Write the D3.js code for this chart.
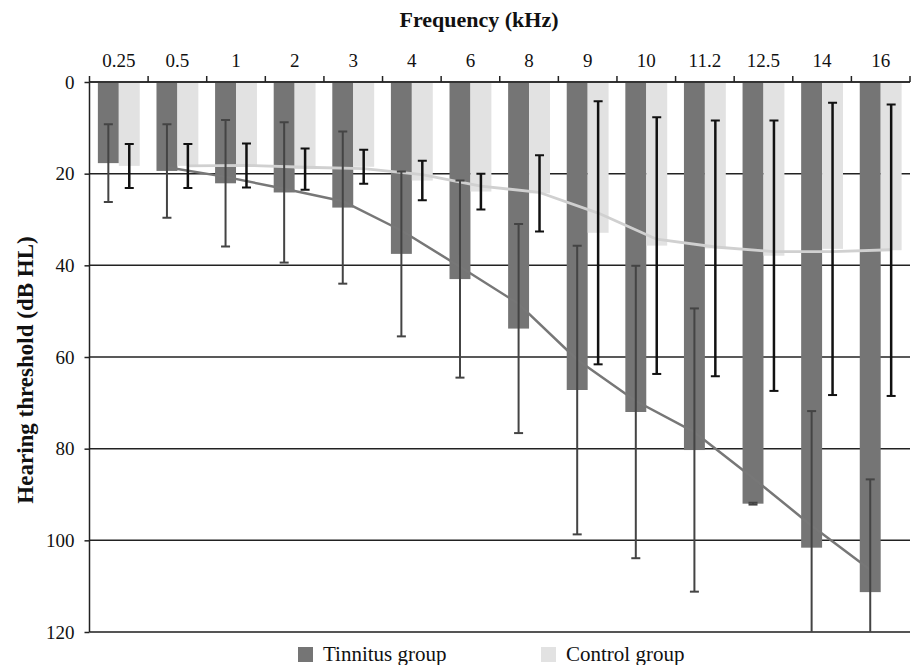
<!DOCTYPE html>
<html>
<head>
<meta charset="utf-8">
<script src="https://cdn.jsdelivr.net/npm/d3@7/dist/d3.min.js"></script>
<style>
  body { margin: 0; background: #fff; }
</style>
</head>
<body>
<div id="chart"></div>
<script>
var width = 912,
    height = 665;

var margin = { top: 82, right: 2, bottom: 33, left: 89.5 };
var serif = "'Liberation Serif'";

// frequencies (kHz)
var freqs = ["0.25", "0.5", "1", "2", "3", "4", "6", "8", "9", "10", "11.2", "12.5", "14", "16"];

// mean hearing thresholds (dB HL) and SD
var tinnitusMean = [17.7, 19.4, 22.1, 24.1, 27.4, 37.5, 43.0, 53.8, 67.2, 72.0, 80.3, 92.0, 101.6, 111.3];
var tinnitusSD   = [8.5, 10.2, 13.8, 15.3, 16.6, 18.0, 21.5, 22.8, 31.5, 31.9, 30.9, 0.2, 29.8, 24.6];
var controlMean  = [18.3, 18.3, 18.2, 19.0, 18.5, 21.5, 23.9, 24.3, 32.9, 35.7, 36.3, 37.9, 36.4, 36.7];
var controlSD    = [4.8, 4.8, 4.8, 4.5, 3.7, 4.3, 3.9, 8.3, 28.7, 28.0, 27.9, 29.5, 31.9, 31.8];

// trend lines (no value at 0.25)
var tinnitusTrend = [null, 18.6, 20.7, 23.3, 26.0, 32.4, 40.3, 48.4, 60.6, 69.6, 76.4, 86.4, 96.8, 106.4];
var controlTrend  = [null, 18.3, 18.2, 18.6, 18.9, 20.2, 22.7, 24.1, 28.6, 34.3, 36.0, 37.0, 37.0, 36.6];

var yTicks = [0, 20, 40, 60, 80, 100, 120];
var groups = ["Tinnitus group", "Control group"];
var colors = { "Tinnitus group": "#757575", "Control group": "#e2e2e2" };

var plotW = width - margin.left - margin.right,
    plotH = 632 - margin.top;

var svg = d3.select("#chart").append("svg")
    .attr("width", width)
    .attr("height", height);

var g = svg.append("g").attr("transform", "translate(" + margin.left + "," + margin.top + ")");

var x = d3.scaleBand()
    .domain(freqs)
    .range([0, plotW]);

var sub = d3.scaleBand()
    .domain(groups)
    .range([0, x.bandwidth()])
    .paddingOuter(0.4);

var y = d3.scaleLinear()
    .domain([0, 120])
    .range([0, plotH]);

svg.append("defs").append("clipPath").attr("id", "clip")
  .append("rect").attr("x", 0).attr("y", 0).attr("width", plotW).attr("height", plotH);

// gridlines
g.append("g")
  .selectAll("line")
  .data(yTicks.slice(1, -1))
  .enter().append("line")
    .attr("x1", 0).attr("x2", plotW)
    .attr("y1", function(d) { return y(d); })
    .attr("y2", function(d) { return y(d); })
    .attr("stroke", "#222")
    .attr("stroke-width", 1.5);

var data = freqs.map(function(f, i) {
  return { f: f, vals: [
    { key: groups[0], m: tinnitusMean[i], sd: tinnitusSD[i] },
    { key: groups[1], m: controlMean[i], sd: controlSD[i] }
  ]};
});

// bars
var cat = g.append("g").selectAll("g")
  .data(data)
  .enter().append("g")
    .attr("transform", function(d) { return "translate(" + x(d.f) + ",0)"; });

cat.selectAll("rect")
  .data(function(d) { return d.vals; })
  .enter().append("rect")
    .attr("x", function(d) { return sub(d.key); })
    .attr("y", 0)
    .attr("width", sub.bandwidth())
    .attr("height", function(d) { return y(d.m); })
    .attr("fill", function(d) { return colors[d.key]; });

// bottom line
g.append("line")
  .attr("x1", 0).attr("x2", plotW)
  .attr("y1", plotH).attr("y2", plotH)
  .attr("stroke", "#555").attr("stroke-width", 2);

// trend lines
function trend(vals, key) {
  return d3.line()
    .defined(function(d) { return d != null; })
    .x(function(d, i) { return x(freqs[i]) + sub(key) + sub.bandwidth() / 2; })
    .y(function(d) { return y(d); })(vals);
}

g.append("path")
  .attr("d", trend(controlTrend, groups[1]))
  .attr("fill", "none")
  .attr("stroke", "#d0d0d0")
  .attr("stroke-width", 2.8)
  .attr("stroke-linejoin", "round");

g.append("path")
  .attr("d", trend(tinnitusTrend, groups[0]))
  .attr("fill", "none")
  .attr("stroke", "#777")
  .attr("stroke-width", 2.5)
  .attr("stroke-linejoin", "round");

// error bars
var err = g.append("g").attr("clip-path", "url(#clip)");
data.forEach(function(d) {
  d.vals.forEach(function(v) {
    var cx = x(d.f) + sub(v.key) + sub.bandwidth() / 2,
        c = v.key == groups[0] ? "#444" : "#111",
        w = v.key == groups[0] ? 2 : 2.5;
    err.append("line")
      .attr("x1", cx).attr("x2", cx)
      .attr("y1", y(v.m - v.sd)).attr("y2", y(v.m + v.sd))
      .attr("stroke", c).attr("stroke-width", w);
    [v.m - v.sd, v.m + v.sd].forEach(function(e) {
      err.append("line")
        .attr("x1", cx - 4.5).attr("x2", cx + 4.5)
        .attr("y1", y(e)).attr("y2", y(e))
        .attr("stroke", c).attr("stroke-width", 2);
    });
  });
});

// left axis
var yAxis = g.append("g")
    .call(d3.axisLeft(y).tickValues(yTicks).tickSize(5).tickPadding(10))
    .attr("font-family", null)
    .attr("font-size", null);
yAxis.selectAll("path, line").attr("stroke", "#222").attr("stroke-width", 1.5);
yAxis.select(".domain").attr("d", "M0,0V" + plotH);
yAxis.selectAll("text")
    .style("font-family", serif)
    .style("font-size", "19px")
    .attr("fill", "#111");

// top axis: ticks on category boundaries, labels centred
var topAxis = g.append("g");
topAxis.append("line")
  .attr("x1", 0).attr("x2", plotW).attr("y1", 0).attr("y2", 0)
  .attr("stroke", "#333").attr("stroke-width", 2);
topAxis.selectAll(".tk")
  .data(freqs.concat(["end"]))
  .enter().append("line")
    .attr("class", "tk")
    .attr("x1", function(d, i) { return i * x.step(); })
    .attr("x2", function(d, i) { return i * x.step(); })
    .attr("y1", 0).attr("y2", -6)
    .attr("stroke", "#222").attr("stroke-width", 1.5);
topAxis.selectAll("text")
  .data(freqs)
  .enter().append("text")
    .attr("x", function(d) { return x(d) + x.bandwidth() / 2; })
    .attr("y", -15)
    .attr("text-anchor", "middle")
    .attr("fill", "#111")
    .style("font-family", serif)
    .style("font-size", "19px")
    .text(function(d) { return d; });

// titles
svg.append("text")
  .attr("x", 479).attr("y", 27)
  .attr("text-anchor", "middle")
  .attr("fill", "#111")
  .style("font-family", serif)
  .style("font-size", "22px")
  .style("font-weight", "bold")
  .text("Frequency (kHz)");

svg.append("text")
  .attr("transform", "translate(33,370) rotate(-90)")
  .attr("text-anchor", "middle")
  .attr("fill", "#111")
  .style("font-family", serif)
  .style("font-size", "23px")
  .style("font-weight", "bold")
  .text("Hearing threshold (dB HL)");

// legend
var legX = [298, 541];
var leg = svg.selectAll(".leg")
  .data(groups)
  .enter().append("g")
    .attr("class", "leg")
    .attr("transform", function(d, i) { return "translate(" + legX[i] + ",647)"; });
leg.append("rect")
  .attr("width", 15).attr("height", 15)
  .attr("fill", function(d) { return colors[d]; });
leg.append("text")
  .attr("x", 25).attr("y", 14)
  .attr("fill", "#111")
  .style("font-family", serif)
  .style("font-size", "21px")
  .text(function(d) { return d; });
</script>
</body>
</html>
